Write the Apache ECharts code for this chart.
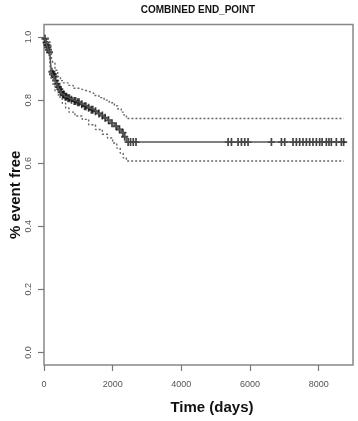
<html>
    <head>
        <meta charset="UTF-8" />
        <script src="https://cdn.jsdelivr.net/npm/echarts@6.0.0/dist/echarts.min.js"></script>
        <style>
            body { margin: 0; background: #fff; }
        </style>
    </head>
    <body>
        <div id="container" style="width: 358px; height: 421px;"></div>
        <script>
            // Kaplan-Meier estimate (time in days, survival)
            var kmTimes = [0, 20, 40, 60, 80, 100, 120, 150, 175, 200, 215, 240, 280, 320, 360, 400, 440, 480, 530, 600,
                680, 760, 850, 950, 1050, 1150, 1250, 1350, 1450, 1550, 1650, 1750, 1850, 1950, 2050, 2150, 2250, 2330, 2400, 8727];
            var kmSurv = [1.0, 0.995, 0.99, 0.983, 0.975, 0.968, 0.96, 0.952, 0.945, 0.905, 0.89, 0.882, 0.875, 0.862, 0.852, 0.842, 0.835, 0.826, 0.818, 0.811,
                0.806, 0.801, 0.797, 0.793, 0.787, 0.781, 0.776, 0.77, 0.765, 0.758, 0.751, 0.744, 0.736, 0.727, 0.717, 0.707, 0.697, 0.684, 0.667, 0.667];

            // 95% confidence band
            var upperTimes = [0, 100, 150, 200, 215, 260, 320, 400, 480, 560, 700, 850, 1000, 1150, 1300, 1450, 1600, 1750, 1900, 2050, 2150, 2250, 2330, 2400, 8727];
            var upperSurv = [1.0, 0.995, 0.99, 0.975, 0.935, 0.918, 0.895, 0.875, 0.862, 0.855, 0.847, 0.838, 0.833, 0.828, 0.822, 0.815, 0.808, 0.8, 0.792, 0.782, 0.772, 0.762, 0.752, 0.742, 0.742];
            var lowerTimes = [0, 100, 150, 200, 260, 320, 420, 533, 630, 727, 900, 1115, 1300, 1500, 1700, 1850, 2000, 2120, 2220, 2306, 2400, 8727];
            var lowerSurv = [1.0, 0.97, 0.955, 0.87, 0.85, 0.83, 0.81, 0.79, 0.775, 0.762, 0.75, 0.739, 0.722, 0.707, 0.692, 0.68, 0.664, 0.648, 0.632, 0.617, 0.607, 0.607];

            // censoring times
            var censorTimes = [30, 60, 90, 110, 130, 160, 230, 250, 270, 300, 340, 380, 420, 460, 500, 550, 580, 620, 650, 700,
                740, 800, 880, 920, 980, 1020, 1100, 1180, 1220, 1300, 1380, 1420, 1500, 1600, 1700, 1780, 1880, 1980, 2100, 2200,
                2300, 2350, 2450, 2520, 2600, 2680, 5362, 5460, 5652, 5751, 5847, 5943, 6624, 6915, 7011, 7252, 7351, 7447, 7543,
                7642, 7738, 7834, 7933, 8029, 8100, 8224, 8300, 8369, 8515, 8660, 8727];

            var xTicks = [0, 2000, 4000, 6000, 8000];
            var yTicks = [0, 0.2, 0.4, 0.6, 0.8, 1.0];

            function pairs(xs, ys) {
                var out = [];
                for (var i = 0; i < xs.length; i++) out.push([xs[i], ys[i]]);
                return out;
            }

            // survival value at time t (right-continuous step)
            function survAt(t) {
                var s = kmSurv[0];
                for (var i = 0; i < kmTimes.length; i++) {
                    if (kmTimes[i] <= t) s = kmSurv[i];
                }
                return s;
            }

            var censorData = censorTimes.map(function (t) { return [t, survAt(t)]; });

            var labelStyle = { color: '#555', fontSize: 9, fontFamily: 'Liberation Sans' };

            var chart = echarts.init(document.getElementById('container'));
            chart.setOption({
                animation: false,
                grid: { left: 44, right: 5, top: 24.5, bottom: 56, outerBoundsMode: 'none', containLabel: false,
                    show: true, borderColor: '#888', borderWidth: 1.5 },
                graphic: [{
                    type: 'text', x: 198, y: 5,
                    style: { text: 'COMBINED END_POINT', align: 'center', fill: '#111',
                        font: 'bold 10px "Liberation Sans"' }
                }],
                xAxis: {
                    type: 'value', min: 0, max: 9000,
                    name: 'Time (days)', nameLocation: 'middle', nameGap: 35, nameMoveOverlap: false,
                    nameTextStyle: { fontSize: 15, fontWeight: 'bold', color: '#111', fontFamily: 'Liberation Sans', padding: [0, 0, 0, 27] },
                    axisLine: { show: false, onZero: false },
                    axisTick: { show: true, length: 6, lineStyle: { color: '#777', width: 1.2 }, customValues: xTicks },
                    axisLabel: Object.assign({
                        margin: 15, customValues: xTicks,
                        formatter: function (v) { return String(v); }
                    }, labelStyle),
                    splitLine: { show: false }
                },
                yAxis: {
                    type: 'value', min: -0.04, max: 1.04,
                    name: '% event free', nameLocation: 'middle', nameGap: 21, nameMoveOverlap: false,
                    nameTextStyle: { fontSize: 15, fontWeight: 'bold', color: '#111', fontFamily: 'Liberation Sans' },
                    axisLine: { show: false, onZero: false },
                    axisTick: { show: true, length: 6, lineStyle: { color: '#777', width: 1.2 }, customValues: yTicks },
                    axisLabel: Object.assign({
                        margin: 11, rotate: 90, customValues: yTicks,
                        formatter: function (v) { return v.toFixed(1); }
                    }, labelStyle),
                    splitLine: { show: false }
                },
                series: [{
                    type: 'line', step: 'end', symbol: 'none',
                    data: pairs(upperTimes, upperSurv),
                    lineStyle: { color: '#666', width: 1.4, type: [2, 2] }
                }, {
                    type: 'line', step: 'end', symbol: 'none',
                    data: pairs(lowerTimes, lowerSurv),
                    lineStyle: { color: '#666', width: 1.4, type: [2, 2] }
                }, {
                    type: 'line', step: 'end', symbol: 'none',
                    data: pairs(kmTimes, kmSurv),
                    lineStyle: { color: '#555', width: 1.5 }
                }, {
                    type: 'scatter',
                    data: censorData,
                    symbol: 'path://M5,0L5,10M0,5L10,5',
                    symbolSize: [7, 8],
                    itemStyle: { color: 'rgba(0,0,0,0)', borderColor: '#111', borderWidth: 1.8 }
                }]
            });
        </script>
    </body>
</html>
